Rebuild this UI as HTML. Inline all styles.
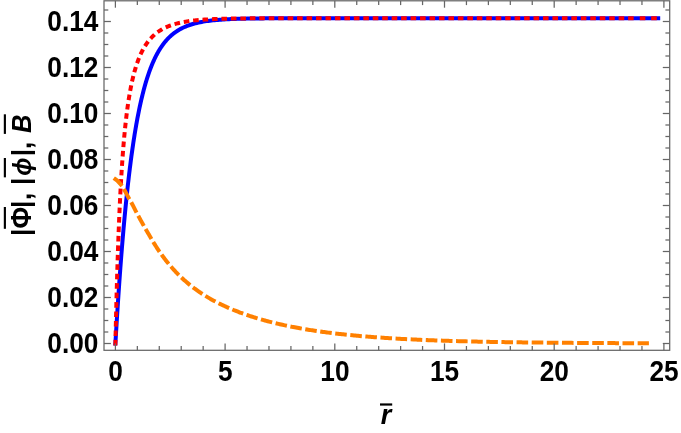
<!DOCTYPE html>
<html><head><meta charset="utf-8"><title>plot</title>
<style>
html,body{margin:0;padding:0;background:#fff;}
body{width:681px;height:433px;overflow:hidden;}
svg{display:block;will-change:transform;}
text{font-family:"Liberation Sans",Arial,Helvetica,sans-serif;font-weight:bold;font-size:28.6px;fill:#000;}
.it{font-style:italic;}
</style></head><body>
<svg width="681" height="433" viewBox="0 0 681 433">
<rect x="0" y="0" width="681" height="433" fill="#fff"/>
<g fill="none" stroke-linejoin="round">
<path d="M115.40,343.50 L115.65,339.24 L115.90,335.03 L116.15,330.87 L116.40,326.76 L116.65,322.69 L116.90,318.68 L117.15,314.72 L117.40,310.80 L117.65,306.93 L117.90,303.11 L118.15,299.34 L118.40,295.61 L118.65,291.94 L118.90,288.30 L119.15,284.72 L119.40,281.18 L119.65,277.68 L119.90,274.23 L120.15,270.83 L120.40,267.46 L120.65,264.14 L120.90,260.87 L121.15,257.64 L121.40,254.45 L121.65,251.30 L121.90,248.19 L122.15,245.12 L122.40,242.10 L122.65,239.11 L122.90,236.16 L123.15,233.25 L123.40,230.39 L123.65,227.55 L123.90,224.76 L124.15,222.00 L124.40,219.28 L124.65,216.60 L124.90,213.95 L125.15,211.34 L125.40,208.76 L125.65,206.22 L125.90,203.71 L126.15,201.24 L126.40,198.80 L126.65,196.39 L126.90,194.01 L127.15,191.67 L127.40,189.35 L127.65,187.07 L127.90,184.82 L128.15,182.60 L128.40,180.41 L128.65,178.25 L128.90,176.12 L129.15,174.01 L129.40,171.94 L129.65,169.89 L129.90,167.87 L130.15,165.88 L130.40,163.92 L130.65,161.98 L130.90,160.07 L131.15,158.18 L131.40,156.32 L131.65,154.48 L131.90,152.67 L132.15,150.89 L132.40,149.13 L132.65,147.39 L132.90,145.67 L133.15,143.98 L133.40,142.31 L133.65,140.67 L133.90,139.04 L134.15,137.44 L134.40,135.86 L134.65,134.30 L134.90,132.77 L135.15,131.25 L135.40,129.75 L135.65,128.28 L135.90,126.82 L136.15,125.39 L136.40,123.97 L136.65,122.57 L136.90,121.19 L137.15,119.83 L137.40,118.49 L137.65,117.17 L137.90,115.86 L138.15,114.57 L138.40,113.30 L138.65,112.05 L138.90,110.81 L139.15,109.59 L139.40,108.39 L139.65,107.20 L139.90,106.03 L140.15,104.87 L140.40,103.73 L140.65,102.61 L140.90,101.50 L141.15,100.40 L141.40,99.32 L141.65,98.26 L141.90,97.21 L142.15,96.17 L142.40,95.15 L142.65,94.14 L142.90,93.14 L143.15,92.16 L143.40,91.19 L143.65,90.23 L143.90,89.29 L144.15,88.36 L144.40,87.44 L144.65,86.54 L144.90,85.64 L145.15,84.76 L145.40,83.89 L145.65,83.03 L145.90,82.19 L146.15,81.35 L146.40,80.53 L146.65,79.71 L146.90,78.91 L147.15,78.12 L147.40,77.34 L147.65,76.57 L147.90,75.81 L148.15,75.06 L148.40,74.32 L148.65,73.59 L148.90,72.87 L149.15,72.16 L149.40,71.45 L149.65,70.76 L149.90,70.08 L150.15,69.41 L150.40,68.74 L150.65,68.08 L150.90,67.44 L151.15,66.80 L151.40,66.17 L151.65,65.55 L151.90,64.93 L152.15,64.33 L152.40,63.73 L152.65,63.14 L152.90,62.56 L153.15,61.99 L153.40,61.42 L153.65,60.86 L153.90,60.31 L154.15,59.77 L154.40,59.23 L154.65,58.70 L154.90,58.18 L155.15,57.66 L155.40,57.15 L155.65,56.65 L155.90,56.15 L156.15,55.66 L156.40,55.18 L156.65,54.71 L156.90,54.24 L157.15,53.77 L157.40,53.31 L157.65,52.86 L157.90,52.42 L158.15,51.98 L158.40,51.54 L158.65,51.11 L158.90,50.69 L159.15,50.27 L159.40,49.86 L159.65,49.46 L159.90,49.06 L160.15,48.66 L160.40,48.27 L160.65,47.88 L160.90,47.50 L161.15,47.13 L161.40,46.76 L161.65,46.39 L161.90,46.03 L162.15,45.68 L162.40,45.32 L162.65,44.98 L162.90,44.64 L163.15,44.30 L163.40,43.96 L163.65,43.64 L163.90,43.31 L164.15,42.99 L164.40,42.67 L164.65,42.36 L164.90,42.05 L165.15,41.75 L165.40,41.45 L165.65,41.15 L165.90,40.86 L166.15,40.57 L166.40,40.29 L166.65,40.01 L166.90,39.73 L167.15,39.46 L167.40,39.19 L167.65,38.92 L167.90,38.66 L168.15,38.40 L168.40,38.14 L168.65,37.89 L168.90,37.64 L169.15,37.39 L169.40,37.15 L169.65,36.91 L169.90,36.67 L170.15,36.44 L170.40,36.20 L170.65,35.98 L170.90,35.75 L171.15,35.53 L171.40,35.31 L171.65,35.09 L171.90,34.88 L172.15,34.67 L172.40,34.46 L172.65,34.25 L172.90,34.05 L173.15,33.85 L173.40,33.65 L173.65,33.46 L173.90,33.27 L174.15,33.08 L174.40,32.89 L174.65,32.70 L174.90,32.52 L175.15,32.34 L175.40,32.16 L175.90,31.81 L177.51,30.74 L179.13,29.76 L180.74,28.86 L182.35,28.03 L183.97,27.26 L185.58,26.55 L187.19,25.90 L188.80,25.31 L190.42,24.75 L192.03,24.25 L193.64,23.78 L195.26,23.35 L196.87,22.95 L198.48,22.59 L200.10,22.25 L201.71,21.94 L203.32,21.65 L204.93,21.38 L206.55,21.14 L208.16,20.92 L209.77,20.71 L211.39,20.52 L213.00,20.34 L214.61,20.18 L216.23,20.03 L217.84,19.89 L219.45,19.76 L221.07,19.64 L222.68,19.53 L224.29,19.43 L225.90,19.34 L227.52,19.25 L229.13,19.17 L230.74,19.10 L232.36,19.03 L233.97,18.97 L235.58,18.91 L237.20,18.86 L238.81,18.81 L240.42,18.76 L242.03,18.72 L243.65,18.68 L245.26,18.64 L246.87,18.61 L248.49,18.58 L250.10,18.55 L251.71,18.52 L253.33,18.50 L254.94,18.48 L256.55,18.46 L258.17,18.44 L259.78,18.42 L261.39,18.40 L263.00,18.39 L264.62,18.37 L266.23,18.36 L267.84,18.35 L269.46,18.34 L271.07,18.33 L272.68,18.32 L274.30,18.31 L275.91,18.30 L277.52,18.29 L279.13,18.29 L280.75,18.28 L282.36,18.27 L283.97,18.27 L285.59,18.26 L287.20,18.26 L288.81,18.25 L290.43,18.25 L292.04,18.25 L293.65,18.24 L295.27,18.24 L296.88,18.24 L298.49,18.23 L300.10,18.23 L301.72,18.23 L303.33,18.23 L304.94,18.23 L306.56,18.22 L308.17,18.22 L309.78,18.22 L311.40,18.22 L313.01,18.22 L314.62,18.22 L316.23,18.21 L317.85,18.21 L319.46,18.21 L321.07,18.21 L322.69,18.21 L324.30,18.21 L325.91,18.21 L327.53,18.21 L329.14,18.21 L330.75,18.21 L332.37,18.21 L333.98,18.21 L335.59,18.21 L337.20,18.21 L338.82,18.20 L340.43,18.20 L342.04,18.20 L343.66,18.20 L345.27,18.20 L346.88,18.20 L348.50,18.20 L350.11,18.20 L351.72,18.20 L353.33,18.20 L354.95,18.20 L356.56,18.20 L358.17,18.20 L359.79,18.20 L361.40,18.20 L363.01,18.20 L364.63,18.20 L366.24,18.20 L367.85,18.20 L369.47,18.20 L371.08,18.20 L372.69,18.20 L374.30,18.20 L375.92,18.20 L377.53,18.20 L379.14,18.20 L380.76,18.20 L382.37,18.20 L383.98,18.20 L385.60,18.20 L387.21,18.20 L388.82,18.20 L390.43,18.20 L392.05,18.20 L393.66,18.20 L395.27,18.20 L396.89,18.20 L398.50,18.20 L400.11,18.20 L401.73,18.20 L403.34,18.20 L404.95,18.20 L406.57,18.20 L408.18,18.20 L409.79,18.20 L411.40,18.20 L413.02,18.20 L414.63,18.20 L416.24,18.20 L417.86,18.20 L419.47,18.20 L421.08,18.20 L422.70,18.20 L424.31,18.20 L425.92,18.20 L427.53,18.20 L429.15,18.20 L430.76,18.20 L432.37,18.20 L433.99,18.20 L435.60,18.20 L437.21,18.20 L438.83,18.20 L440.44,18.20 L442.05,18.20 L443.67,18.20 L445.28,18.20 L446.89,18.20 L448.50,18.20 L450.12,18.20 L451.73,18.20 L453.34,18.20 L454.96,18.20 L456.57,18.20 L458.18,18.20 L459.80,18.20 L461.41,18.20 L463.02,18.20 L464.63,18.20 L466.25,18.20 L467.86,18.20 L469.47,18.20 L471.09,18.20 L472.70,18.20 L474.31,18.20 L475.93,18.20 L477.54,18.20 L479.15,18.20 L480.77,18.20 L482.38,18.20 L483.99,18.20 L485.60,18.20 L487.22,18.20 L488.83,18.20 L490.44,18.20 L492.06,18.20 L493.67,18.20 L495.28,18.20 L496.90,18.20 L498.51,18.20 L500.12,18.20 L501.73,18.20 L503.35,18.20 L504.96,18.20 L506.57,18.20 L508.19,18.20 L509.80,18.20 L511.41,18.20 L513.03,18.20 L514.64,18.20 L516.25,18.20 L517.87,18.20 L519.48,18.20 L521.09,18.20 L522.70,18.20 L524.32,18.20 L525.93,18.20 L527.54,18.20 L529.16,18.20 L530.77,18.20 L532.38,18.20 L534.00,18.20 L535.61,18.20 L537.22,18.20 L538.83,18.20 L540.45,18.20 L542.06,18.20 L543.67,18.20 L545.29,18.20 L546.90,18.20 L548.51,18.20 L550.13,18.20 L551.74,18.20 L553.35,18.20 L554.97,18.20 L556.58,18.20 L558.19,18.20 L559.80,18.20 L561.42,18.20 L563.03,18.20 L564.64,18.20 L566.26,18.20 L567.87,18.20 L569.48,18.20 L571.10,18.20 L572.71,18.20 L574.32,18.20 L575.93,18.20 L577.55,18.20 L579.16,18.20 L580.77,18.20 L582.39,18.20 L584.00,18.20 L585.61,18.20 L587.23,18.20 L588.84,18.20 L590.45,18.20 L592.07,18.20 L593.68,18.20 L595.29,18.20 L596.90,18.20 L598.52,18.20 L600.13,18.20 L601.74,18.20 L603.36,18.20 L604.97,18.20 L606.58,18.20 L608.20,18.20 L609.81,18.20 L611.42,18.20 L613.03,18.20 L614.65,18.20 L616.26,18.20 L617.87,18.20 L619.49,18.20 L621.10,18.20 L622.71,18.20 L624.33,18.20 L625.94,18.20 L627.55,18.20 L629.17,18.20 L630.78,18.20 L632.39,18.20 L634.00,18.20 L635.62,18.20 L637.23,18.20 L638.84,18.20 L640.46,18.20 L642.07,18.20 L643.68,18.20 L645.30,18.20 L646.91,18.20 L648.52,18.20 L650.13,18.20 L651.75,18.20 L653.36,18.20 L654.97,18.20 L656.59,18.20 L658.20,18.20" stroke="#0000ff" stroke-width="4" stroke-linecap="square"/>
<path d="M115.40,343.50 L115.65,332.55 L115.90,322.03 L116.15,311.94 L116.40,302.27 L116.65,293.00 L116.90,284.12 L117.15,275.62 L117.40,267.48 L117.65,259.68 L117.90,252.22 L118.15,245.07 L118.40,238.22 L118.65,231.66 L118.90,225.38 L119.15,219.35 L119.40,213.58 L119.65,208.03 L119.90,202.72 L120.15,197.61 L120.40,192.71 L120.65,188.00 L120.90,183.48 L121.15,179.13 L121.40,174.94 L121.65,170.92 L121.90,167.04 L122.15,163.30 L122.40,159.70 L122.65,156.23 L122.90,152.89 L123.15,149.66 L123.40,146.54 L123.65,143.53 L123.90,140.62 L124.15,137.81 L124.40,135.09 L124.65,132.47 L124.90,129.92 L125.15,127.46 L125.40,125.07 L125.65,122.76 L125.90,120.53 L126.15,118.35 L126.40,116.25 L126.65,114.21 L126.90,112.22 L127.15,110.30 L127.40,108.43 L127.65,106.61 L127.90,104.85 L128.15,103.13 L128.40,101.47 L128.65,99.84 L128.90,98.27 L129.15,96.73 L129.40,95.23 L129.65,93.78 L129.90,92.36 L130.15,90.98 L130.40,89.63 L130.65,88.32 L130.90,87.04 L131.15,85.79 L131.40,84.57 L131.65,83.38 L131.90,82.22 L132.15,81.09 L132.40,79.98 L132.65,78.90 L132.90,77.85 L133.15,76.82 L133.40,75.81 L133.65,74.82 L133.90,73.86 L134.15,72.92 L134.40,72.00 L134.65,71.10 L134.90,70.22 L135.15,69.36 L135.40,68.52 L135.65,67.69 L135.90,66.88 L136.15,66.09 L136.40,65.32 L136.65,64.56 L136.90,63.82 L137.15,63.09 L137.40,62.38 L137.65,61.68 L137.90,60.99 L138.15,60.32 L138.40,59.66 L138.65,59.02 L138.90,58.38 L139.15,57.76 L139.40,57.16 L139.65,56.56 L139.90,55.97 L140.15,55.40 L140.40,54.83 L140.65,54.28 L140.90,53.74 L141.15,53.20 L141.40,52.68 L141.65,52.16 L141.90,51.66 L142.15,51.16 L142.40,50.68 L142.65,50.20 L142.90,49.73 L143.15,49.27 L143.40,48.81 L143.65,48.37 L143.90,47.93 L144.15,47.50 L144.40,47.08 L144.65,46.66 L144.90,46.25 L145.15,45.85 L145.40,45.46 L145.65,45.07 L145.90,44.69 L146.15,44.31 L146.40,43.94 L146.65,43.58 L146.90,43.22 L147.15,42.87 L147.40,42.52 L147.65,42.18 L147.90,41.85 L148.15,41.52 L148.40,41.20 L148.65,40.88 L148.90,40.57 L149.15,40.26 L149.40,39.95 L149.65,39.65 L149.90,39.36 L150.15,39.07 L150.40,38.79 L150.65,38.51 L150.90,38.23 L151.15,37.96 L151.40,37.69 L151.65,37.43 L151.90,37.17 L152.15,36.91 L152.40,36.66 L152.65,36.41 L152.90,36.17 L153.15,35.93 L153.40,35.69 L153.65,35.46 L153.90,35.23 L154.15,35.00 L154.40,34.78 L154.65,34.56 L154.90,34.34 L155.15,34.13 L155.40,33.92 L155.65,33.71 L155.90,33.51 L156.15,33.30 L156.40,33.11 L156.65,32.91 L156.90,32.72 L157.15,32.53 L157.40,32.34 L157.65,32.16 L157.90,31.98 L158.15,31.80 L158.40,31.62 L158.65,31.45 L158.90,31.28 L159.15,31.11 L159.40,30.94 L159.65,30.78 L159.90,30.61 L160.15,30.45 L160.40,30.30 L160.65,30.14 L160.90,29.99 L161.15,29.84 L161.40,29.69 L161.65,29.54 L161.90,29.40 L162.15,29.25 L162.40,29.11 L162.65,28.97 L162.90,28.84 L163.15,28.70 L163.40,28.57 L163.65,28.44 L163.90,28.31 L164.15,28.18 L164.40,28.05 L164.65,27.93 L164.90,27.81 L165.15,27.69 L165.40,27.57 L165.65,27.45 L165.90,27.33 L166.15,27.22 L166.40,27.11 L166.65,26.99 L166.90,26.88 L167.15,26.78 L167.40,26.67 L167.65,26.56 L167.90,26.46 L168.15,26.35 L168.40,26.25 L168.65,26.15 L168.90,26.05 L169.15,25.96 L169.40,25.86 L169.65,25.77 L169.90,25.67 L170.15,25.58 L170.40,25.49 L170.65,25.40 L170.90,25.31 L171.15,25.22 L171.40,25.13 L171.65,25.05 L171.90,24.96 L172.15,24.88 L172.40,24.80 L172.65,24.72 L172.90,24.64 L173.15,24.56 L173.40,24.48 L173.65,24.40 L173.90,24.33 L174.15,24.25 L174.40,24.18 L174.65,24.11 L174.90,24.03 L175.15,23.96 L175.40,23.89 L175.90,23.75 L177.44,23.35 L178.98,22.98 L180.52,22.63 L182.06,22.32 L183.59,22.02 L185.13,21.75 L186.67,21.50 L188.21,21.26 L189.75,21.04 L191.29,20.84 L192.83,20.66 L194.37,20.48 L195.90,20.32 L197.44,20.17 L198.98,20.04 L200.52,19.91 L202.06,19.79 L203.60,19.68 L205.14,19.57 L206.68,19.48 L208.21,19.39 L209.75,19.31 L211.29,19.23 L212.83,19.16 L214.37,19.09 L215.91,19.03 L217.45,18.98 L218.99,18.92 L220.53,18.87 L222.06,18.83 L223.60,18.78 L225.14,18.74 L226.68,18.71 L228.22,18.67 L229.76,18.64 L231.30,18.61 L232.84,18.58 L234.37,18.56 L235.91,18.53 L237.45,18.51 L238.99,18.49 L240.53,18.47 L242.07,18.45 L243.61,18.43 L245.15,18.42 L246.68,18.40 L248.22,18.39 L249.76,18.38 L251.30,18.36 L252.84,18.35 L254.38,18.34 L255.92,18.33 L257.46,18.32 L258.99,18.32 L260.53,18.31 L262.07,18.30 L263.61,18.29 L265.15,18.29 L266.69,18.28 L268.23,18.28 L269.77,18.27 L271.31,18.27 L272.84,18.26 L274.38,18.26 L275.92,18.25 L277.46,18.25 L279.00,18.25 L280.54,18.24 L282.08,18.24 L283.62,18.24 L285.15,18.24 L286.69,18.23 L288.23,18.23 L289.77,18.23 L291.31,18.23 L292.85,18.22 L294.39,18.22 L295.93,18.22 L297.46,18.22 L299.00,18.22 L300.54,18.22 L302.08,18.22 L303.62,18.22 L305.16,18.21 L306.70,18.21 L308.24,18.21 L309.78,18.21 L311.31,18.21 L312.85,18.21 L314.39,18.21 L315.93,18.21 L317.47,18.21 L319.01,18.21 L320.55,18.21 L322.09,18.21 L323.62,18.21 L325.16,18.21 L326.70,18.21 L328.24,18.21 L329.78,18.20 L331.32,18.20 L332.86,18.20 L334.40,18.20 L335.93,18.20 L337.47,18.20 L339.01,18.20 L340.55,18.20 L342.09,18.20 L343.63,18.20 L345.17,18.20 L346.71,18.20 L348.25,18.20 L349.78,18.20 L351.32,18.20 L352.86,18.20 L354.40,18.20 L355.94,18.20 L357.48,18.20 L359.02,18.20 L360.56,18.20 L362.09,18.20 L363.63,18.20 L365.17,18.20 L366.71,18.20 L368.25,18.20 L369.79,18.20 L371.33,18.20 L372.87,18.20 L374.40,18.20 L375.94,18.20 L377.48,18.20 L379.02,18.20 L380.56,18.20 L382.10,18.20 L383.64,18.20 L385.18,18.20 L386.72,18.20 L388.25,18.20 L389.79,18.20 L391.33,18.20 L392.87,18.20 L394.41,18.20 L395.95,18.20 L397.49,18.20 L399.03,18.20 L400.56,18.20 L402.10,18.20 L403.64,18.20 L405.18,18.20 L406.72,18.20 L408.26,18.20 L409.80,18.20 L411.34,18.20 L412.87,18.20 L414.41,18.20 L415.95,18.20 L417.49,18.20 L419.03,18.20 L420.57,18.20 L422.11,18.20 L423.65,18.20 L425.18,18.20 L426.72,18.20 L428.26,18.20 L429.80,18.20 L431.34,18.20 L432.88,18.20 L434.42,18.20 L435.96,18.20 L437.50,18.20 L439.03,18.20 L440.57,18.20 L442.11,18.20 L443.65,18.20 L445.19,18.20 L446.73,18.20 L448.27,18.20 L449.81,18.20 L451.34,18.20 L452.88,18.20 L454.42,18.20 L455.96,18.20 L457.50,18.20 L459.04,18.20 L460.58,18.20 L462.12,18.20 L463.65,18.20 L465.19,18.20 L466.73,18.20 L468.27,18.20 L469.81,18.20 L471.35,18.20 L472.89,18.20 L474.43,18.20 L475.97,18.20 L477.50,18.20 L479.04,18.20 L480.58,18.20 L482.12,18.20 L483.66,18.20 L485.20,18.20 L486.74,18.20 L488.28,18.20 L489.81,18.20 L491.35,18.20 L492.89,18.20 L494.43,18.20 L495.97,18.20 L497.51,18.20 L499.05,18.20 L500.59,18.20 L502.12,18.20 L503.66,18.20 L505.20,18.20 L506.74,18.20 L508.28,18.20 L509.82,18.20 L511.36,18.20 L512.90,18.20 L514.44,18.20 L515.97,18.20 L517.51,18.20 L519.05,18.20 L520.59,18.20 L522.13,18.20 L523.67,18.20 L525.21,18.20 L526.75,18.20 L528.28,18.20 L529.82,18.20 L531.36,18.20 L532.90,18.20 L534.44,18.20 L535.98,18.20 L537.52,18.20 L539.06,18.20 L540.59,18.20 L542.13,18.20 L543.67,18.20 L545.21,18.20 L546.75,18.20 L548.29,18.20 L549.83,18.20 L551.37,18.20 L552.91,18.20 L554.44,18.20 L555.98,18.20 L557.52,18.20 L559.06,18.20 L560.60,18.20 L562.14,18.20 L563.68,18.20 L565.22,18.20 L566.75,18.20 L568.29,18.20 L569.83,18.20 L571.37,18.20 L572.91,18.20 L574.45,18.20 L575.99,18.20 L577.53,18.20 L579.06,18.20 L580.60,18.20 L582.14,18.20 L583.68,18.20 L585.22,18.20 L586.76,18.20 L588.30,18.20 L589.84,18.20 L591.37,18.20 L592.91,18.20 L594.45,18.20 L595.99,18.20 L597.53,18.20 L599.07,18.20 L600.61,18.20 L602.15,18.20 L603.69,18.20 L605.22,18.20 L606.76,18.20 L608.30,18.20 L609.84,18.20 L611.38,18.20 L612.92,18.20 L614.46,18.20 L616.00,18.20 L617.53,18.20 L619.07,18.20 L620.61,18.20 L622.15,18.20 L623.69,18.20 L625.23,18.20 L626.77,18.20 L628.31,18.20 L629.84,18.20 L631.38,18.20 L632.92,18.20 L634.46,18.20 L636.00,18.20" stroke="#ff0000" stroke-width="4" stroke-dasharray="1.6 7.857" stroke-linecap="square"/>
<path d="M639.75,18.20 L645.35,18.20 M651.2,18.20 L656.8,18.20" stroke="#ff0000" stroke-width="4" stroke-linecap="butt"/>
<path d="M115.40,179.20 L115.90,179.55 L116.40,179.93 L116.90,180.35 L117.40,180.80 L117.90,181.29 L118.40,181.80 L118.90,182.33 L119.40,182.89 L119.90,183.47 L120.40,184.07 L120.90,184.68 L121.40,185.30 L121.90,185.97 L122.40,186.70 L122.90,187.49 L123.40,188.30 L123.90,189.13 L124.40,189.98 L124.90,190.86 L125.40,191.77 L125.90,192.71 L126.40,193.66 L126.90,194.62 L127.40,195.58 L127.90,196.54 L128.40,197.47 L128.90,198.39 L129.40,199.27 L129.90,200.12 L130.40,200.94 L130.90,201.77 L131.40,202.62 L131.90,203.53 L132.40,204.46 L132.90,205.42 L133.40,206.40 L133.90,207.40 L134.40,208.39 L134.90,209.39 L135.40,210.38 L135.90,211.36 L136.40,212.31 L136.90,213.25 L137.40,214.18 L137.90,215.11 L138.40,216.03 L138.90,216.95 L139.40,217.87 L139.90,218.79 L140.40,219.70 L140.90,220.60 L141.40,221.50 L141.90,222.40 L142.40,223.30 L142.90,224.19 L143.40,225.08 L143.90,225.96 L144.40,226.84 L144.90,227.72 L145.40,228.59 L145.90,229.46 L146.40,230.32 L146.90,231.18 L147.40,232.04 L147.90,232.89 L148.40,233.75 L148.90,234.61 L149.40,235.47 L149.90,236.32 L150.40,237.17 L150.90,238.02 L151.40,238.87 L151.90,239.71 L152.40,240.55 L152.90,241.39 L153.40,242.22 L153.90,243.04 L154.40,243.86 L154.90,244.67 L155.40,245.47 L155.90,246.26 L156.40,247.04 L156.90,247.82 L157.40,248.59 L157.90,249.34 L158.40,250.08 L158.90,250.82 L159.40,251.54 L159.90,252.26 L160.40,252.97 L160.90,253.68 L161.40,254.38 L161.90,255.08 L162.40,255.77 L162.90,256.45 L163.40,257.13 L163.90,257.80 L164.40,258.46 L164.90,259.12 L165.40,259.77 L165.90,260.42 L166.40,261.06 L166.90,261.69 L167.40,262.32 L167.90,262.94 L168.40,263.55 L168.90,264.16 L169.40,264.76 L169.90,265.35 L170.40,265.94 L170.90,266.52 L171.40,267.09 L171.90,267.66 L172.40,268.23 L172.90,268.79 L173.40,269.34 L173.90,269.89 L174.40,270.43 L174.90,270.97 L175.40,271.51 L175.90,272.03 L177.25,273.43 L178.60,274.79 L179.95,276.12 L181.30,277.41 L182.65,278.67 L184.00,279.90 L185.35,281.09 L186.70,282.26 L188.05,283.40 L189.40,284.51 L190.75,285.59 L192.09,286.65 L193.44,287.68 L194.79,288.69 L196.14,289.67 L197.49,290.63 L198.84,291.57 L200.19,292.49 L201.54,293.39 L202.89,294.26 L204.24,295.12 L205.59,295.96 L206.94,296.78 L208.29,297.59 L209.64,298.38 L210.99,299.15 L212.34,299.90 L213.69,300.64 L215.04,301.36 L216.39,302.07 L217.74,302.77 L219.09,303.45 L220.44,304.12 L221.79,304.78 L223.13,305.42 L224.48,306.05 L225.83,306.67 L227.18,307.27 L228.53,307.87 L229.88,308.45 L231.23,309.03 L232.58,309.59 L233.93,310.14 L235.28,310.69 L236.63,311.22 L237.98,311.74 L239.33,312.26 L240.68,312.76 L242.03,313.26 L243.38,313.75 L244.73,314.23 L246.08,314.70 L247.43,315.16 L248.78,315.62 L250.13,316.06 L251.48,316.50 L252.83,316.94 L254.18,317.36 L255.52,317.78 L256.87,318.19 L258.22,318.59 L259.57,318.99 L260.92,319.38 L262.27,319.76 L263.62,320.14 L264.97,320.51 L266.32,320.88 L267.67,321.24 L269.02,321.59 L270.37,321.94 L271.72,322.28 L273.07,322.62 L274.42,322.95 L275.77,323.27 L277.12,323.59 L278.47,323.91 L279.82,324.22 L281.17,324.52 L282.52,324.82 L283.87,325.12 L285.22,325.41 L286.56,325.70 L287.91,325.98 L289.26,326.25 L290.61,326.53 L291.96,326.79 L293.31,327.06 L294.66,327.32 L296.01,327.57 L297.36,327.82 L298.71,328.07 L300.06,328.31 L301.41,328.55 L302.76,328.79 L304.11,329.02 L305.46,329.25 L306.81,329.47 L308.16,329.70 L309.51,329.91 L310.86,330.13 L312.21,330.34 L313.56,330.55 L314.91,330.75 L316.26,330.95 L317.60,331.15 L318.95,331.34 L320.30,331.53 L321.65,331.72 L323.00,331.91 L324.35,332.09 L325.70,332.27 L327.05,332.45 L328.40,332.62 L329.75,332.79 L331.10,332.96 L332.45,333.13 L333.80,333.29 L335.15,333.45 L336.50,333.61 L337.85,333.76 L339.20,333.92 L340.55,334.07 L341.90,334.22 L343.25,334.36 L344.60,334.51 L345.95,334.65 L347.30,334.79 L348.64,334.92 L349.99,335.06 L351.34,335.19 L352.69,335.32 L354.04,335.45 L355.39,335.58 L356.74,335.70 L358.09,335.83 L359.44,335.95 L360.79,336.07 L362.14,336.18 L363.49,336.30 L364.84,336.41 L366.19,336.52 L367.54,336.63 L368.89,336.74 L370.24,336.85 L371.59,336.95 L372.94,337.05 L374.29,337.16 L375.64,337.26 L376.99,337.35 L378.34,337.45 L379.69,337.55 L381.03,337.64 L382.38,337.73 L383.73,337.82 L385.08,337.91 L386.43,338.00 L387.78,338.09 L389.13,338.17 L390.48,338.26 L391.83,338.34 L393.18,338.42 L394.53,338.50 L395.88,338.58 L397.23,338.66 L398.58,338.73 L399.93,338.81 L401.28,338.88 L402.63,338.95 L403.98,339.02 L405.33,339.09 L406.68,339.16 L408.03,339.23 L409.38,339.30 L410.73,339.37 L412.07,339.43 L413.42,339.49 L414.77,339.56 L416.12,339.62 L417.47,339.68 L418.82,339.74 L420.17,339.80 L421.52,339.86 L422.87,339.92 L424.22,339.97 L425.57,340.03 L426.92,340.08 L428.27,340.14 L429.62,340.19 L430.97,340.24 L432.32,340.29 L433.67,340.34 L435.02,340.39 L436.37,340.44 L437.72,340.49 L439.07,340.54 L440.42,340.58 L441.77,340.63 L443.11,340.67 L444.46,340.72 L445.81,340.76 L447.16,340.81 L448.51,340.85 L449.86,340.89 L451.21,340.93 L452.56,340.97 L453.91,341.01 L455.26,341.05 L456.61,341.09 L457.96,341.13 L459.31,341.16 L460.66,341.20 L462.01,341.24 L463.36,341.27 L464.71,341.31 L466.06,341.34 L467.41,341.38 L468.76,341.41 L470.11,341.44 L471.46,341.47 L472.81,341.51 L474.16,341.54 L475.50,341.57 L476.85,341.60 L478.20,341.63 L479.55,341.66 L480.90,341.69 L482.25,341.72 L483.60,341.74 L484.95,341.77 L486.30,341.80 L487.65,341.83 L489.00,341.85 L490.35,341.88 L491.70,341.90 L493.05,341.93 L494.40,341.95 L495.75,341.98 L497.10,342.00 L498.45,342.03 L499.80,342.05 L501.15,342.07 L502.50,342.09 L503.85,342.12 L505.20,342.14 L506.54,342.16 L507.89,342.18 L509.24,342.20 L510.59,342.22 L511.94,342.24 L513.29,342.26 L514.64,342.28 L515.99,342.30 L517.34,342.32 L518.69,342.34 L520.04,342.36 L521.39,342.37 L522.74,342.39 L524.09,342.41 L525.44,342.43 L526.79,342.44 L528.14,342.46 L529.49,342.48 L530.84,342.49 L532.19,342.51 L533.54,342.52 L534.89,342.54 L536.24,342.55 L537.58,342.57 L538.93,342.58 L540.28,342.60 L541.63,342.61 L542.98,342.63 L544.33,342.64 L545.68,342.65 L547.03,342.67 L548.38,342.68 L549.73,342.69 L551.08,342.71 L552.43,342.72 L553.78,342.73 L555.13,342.74 L556.48,342.75 L557.83,342.77 L559.18,342.78 L560.53,342.79 L561.88,342.80 L563.23,342.81 L564.58,342.82 L565.93,342.83 L567.28,342.84 L568.62,342.85 L569.97,342.86 L571.32,342.87 L572.67,342.88 L574.02,342.89 L575.37,342.90 L576.72,342.91 L578.07,342.92 L579.42,342.93 L580.77,342.94 L582.12,342.95 L583.47,342.96 L584.82,342.97 L586.17,342.97 L587.52,342.98 L588.87,342.99 L590.22,343.00 L591.57,343.01 L592.92,343.01 L594.27,343.02 L595.62,343.03 L596.97,343.04 L598.32,343.04 L599.67,343.05 L601.01,343.06 L602.36,343.06 L603.71,343.07 L605.06,343.08 L606.41,343.09 L607.76,343.09 L609.11,343.10 L610.46,343.10 L611.81,343.11 L613.16,343.12 L614.51,343.12 L615.86,343.13 L617.21,343.13 L618.56,343.14 L619.91,343.15 L621.26,343.15 L622.61,343.16 L623.96,343.16 L625.31,343.17 L626.66,343.17 L628.01,343.18 L629.36,343.18 L630.71,343.19 L632.05,343.19 L633.40,343.20 L634.75,343.20 L636.10,343.21 L637.45,343.21 L638.80,343.22 L640.15,343.22 L641.50,343.23 L642.85,343.23 L644.20,343.23 L645.55,343.24 L646.90,343.24" stroke="#ff8000" stroke-width="4" stroke-dasharray="7.6 7.535" stroke-linecap="square"/>
</g>
<g stroke="#666666" stroke-width="1.25" fill="none">
<rect x="104.0" y="0.8" width="565.7" height="349.5"/>
<line x1="115.40" y1="350.30" x2="115.40" y2="343.40"/>
<line x1="115.40" y1="0.80" x2="115.40" y2="7.70"/>
<line x1="137.34" y1="350.30" x2="137.34" y2="346.00"/>
<line x1="137.34" y1="0.80" x2="137.34" y2="5.10"/>
<line x1="159.28" y1="350.30" x2="159.28" y2="346.00"/>
<line x1="159.28" y1="0.80" x2="159.28" y2="5.10"/>
<line x1="181.22" y1="350.30" x2="181.22" y2="346.00"/>
<line x1="181.22" y1="0.80" x2="181.22" y2="5.10"/>
<line x1="203.16" y1="350.30" x2="203.16" y2="346.00"/>
<line x1="203.16" y1="0.80" x2="203.16" y2="5.10"/>
<line x1="225.10" y1="350.30" x2="225.10" y2="343.40"/>
<line x1="225.10" y1="0.80" x2="225.10" y2="7.70"/>
<line x1="247.04" y1="350.30" x2="247.04" y2="346.00"/>
<line x1="247.04" y1="0.80" x2="247.04" y2="5.10"/>
<line x1="268.98" y1="350.30" x2="268.98" y2="346.00"/>
<line x1="268.98" y1="0.80" x2="268.98" y2="5.10"/>
<line x1="290.92" y1="350.30" x2="290.92" y2="346.00"/>
<line x1="290.92" y1="0.80" x2="290.92" y2="5.10"/>
<line x1="312.86" y1="350.30" x2="312.86" y2="346.00"/>
<line x1="312.86" y1="0.80" x2="312.86" y2="5.10"/>
<line x1="334.80" y1="350.30" x2="334.80" y2="343.40"/>
<line x1="334.80" y1="0.80" x2="334.80" y2="7.70"/>
<line x1="356.74" y1="350.30" x2="356.74" y2="346.00"/>
<line x1="356.74" y1="0.80" x2="356.74" y2="5.10"/>
<line x1="378.68" y1="350.30" x2="378.68" y2="346.00"/>
<line x1="378.68" y1="0.80" x2="378.68" y2="5.10"/>
<line x1="400.62" y1="350.30" x2="400.62" y2="346.00"/>
<line x1="400.62" y1="0.80" x2="400.62" y2="5.10"/>
<line x1="422.56" y1="350.30" x2="422.56" y2="346.00"/>
<line x1="422.56" y1="0.80" x2="422.56" y2="5.10"/>
<line x1="444.50" y1="350.30" x2="444.50" y2="343.40"/>
<line x1="444.50" y1="0.80" x2="444.50" y2="7.70"/>
<line x1="466.44" y1="350.30" x2="466.44" y2="346.00"/>
<line x1="466.44" y1="0.80" x2="466.44" y2="5.10"/>
<line x1="488.38" y1="350.30" x2="488.38" y2="346.00"/>
<line x1="488.38" y1="0.80" x2="488.38" y2="5.10"/>
<line x1="510.32" y1="350.30" x2="510.32" y2="346.00"/>
<line x1="510.32" y1="0.80" x2="510.32" y2="5.10"/>
<line x1="532.26" y1="350.30" x2="532.26" y2="346.00"/>
<line x1="532.26" y1="0.80" x2="532.26" y2="5.10"/>
<line x1="554.20" y1="350.30" x2="554.20" y2="343.40"/>
<line x1="554.20" y1="0.80" x2="554.20" y2="7.70"/>
<line x1="576.14" y1="350.30" x2="576.14" y2="346.00"/>
<line x1="576.14" y1="0.80" x2="576.14" y2="5.10"/>
<line x1="598.08" y1="350.30" x2="598.08" y2="346.00"/>
<line x1="598.08" y1="0.80" x2="598.08" y2="5.10"/>
<line x1="620.02" y1="350.30" x2="620.02" y2="346.00"/>
<line x1="620.02" y1="0.80" x2="620.02" y2="5.10"/>
<line x1="641.96" y1="350.30" x2="641.96" y2="346.00"/>
<line x1="641.96" y1="0.80" x2="641.96" y2="5.10"/>
<line x1="663.90" y1="350.30" x2="663.90" y2="343.40"/>
<line x1="663.90" y1="0.80" x2="663.90" y2="7.70"/>
<line x1="104.00" y1="343.50" x2="110.90" y2="343.50"/>
<line x1="669.70" y1="343.50" x2="662.80" y2="343.50"/>
<line x1="104.00" y1="332.00" x2="108.30" y2="332.00"/>
<line x1="669.70" y1="332.00" x2="665.40" y2="332.00"/>
<line x1="104.00" y1="320.50" x2="108.30" y2="320.50"/>
<line x1="669.70" y1="320.50" x2="665.40" y2="320.50"/>
<line x1="104.00" y1="309.00" x2="108.30" y2="309.00"/>
<line x1="669.70" y1="309.00" x2="665.40" y2="309.00"/>
<line x1="104.00" y1="297.50" x2="110.90" y2="297.50"/>
<line x1="669.70" y1="297.50" x2="662.80" y2="297.50"/>
<line x1="104.00" y1="286.00" x2="108.30" y2="286.00"/>
<line x1="669.70" y1="286.00" x2="665.40" y2="286.00"/>
<line x1="104.00" y1="274.50" x2="108.30" y2="274.50"/>
<line x1="669.70" y1="274.50" x2="665.40" y2="274.50"/>
<line x1="104.00" y1="263.00" x2="108.30" y2="263.00"/>
<line x1="669.70" y1="263.00" x2="665.40" y2="263.00"/>
<line x1="104.00" y1="251.50" x2="110.90" y2="251.50"/>
<line x1="669.70" y1="251.50" x2="662.80" y2="251.50"/>
<line x1="104.00" y1="240.00" x2="108.30" y2="240.00"/>
<line x1="669.70" y1="240.00" x2="665.40" y2="240.00"/>
<line x1="104.00" y1="228.50" x2="108.30" y2="228.50"/>
<line x1="669.70" y1="228.50" x2="665.40" y2="228.50"/>
<line x1="104.00" y1="217.00" x2="108.30" y2="217.00"/>
<line x1="669.70" y1="217.00" x2="665.40" y2="217.00"/>
<line x1="104.00" y1="205.50" x2="110.90" y2="205.50"/>
<line x1="669.70" y1="205.50" x2="662.80" y2="205.50"/>
<line x1="104.00" y1="194.00" x2="108.30" y2="194.00"/>
<line x1="669.70" y1="194.00" x2="665.40" y2="194.00"/>
<line x1="104.00" y1="182.50" x2="108.30" y2="182.50"/>
<line x1="669.70" y1="182.50" x2="665.40" y2="182.50"/>
<line x1="104.00" y1="171.00" x2="108.30" y2="171.00"/>
<line x1="669.70" y1="171.00" x2="665.40" y2="171.00"/>
<line x1="104.00" y1="159.50" x2="110.90" y2="159.50"/>
<line x1="669.70" y1="159.50" x2="662.80" y2="159.50"/>
<line x1="104.00" y1="148.00" x2="108.30" y2="148.00"/>
<line x1="669.70" y1="148.00" x2="665.40" y2="148.00"/>
<line x1="104.00" y1="136.50" x2="108.30" y2="136.50"/>
<line x1="669.70" y1="136.50" x2="665.40" y2="136.50"/>
<line x1="104.00" y1="125.00" x2="108.30" y2="125.00"/>
<line x1="669.70" y1="125.00" x2="665.40" y2="125.00"/>
<line x1="104.00" y1="113.50" x2="110.90" y2="113.50"/>
<line x1="669.70" y1="113.50" x2="662.80" y2="113.50"/>
<line x1="104.00" y1="102.00" x2="108.30" y2="102.00"/>
<line x1="669.70" y1="102.00" x2="665.40" y2="102.00"/>
<line x1="104.00" y1="90.50" x2="108.30" y2="90.50"/>
<line x1="669.70" y1="90.50" x2="665.40" y2="90.50"/>
<line x1="104.00" y1="79.00" x2="108.30" y2="79.00"/>
<line x1="669.70" y1="79.00" x2="665.40" y2="79.00"/>
<line x1="104.00" y1="67.50" x2="110.90" y2="67.50"/>
<line x1="669.70" y1="67.50" x2="662.80" y2="67.50"/>
<line x1="104.00" y1="56.00" x2="108.30" y2="56.00"/>
<line x1="669.70" y1="56.00" x2="665.40" y2="56.00"/>
<line x1="104.00" y1="44.50" x2="108.30" y2="44.50"/>
<line x1="669.70" y1="44.50" x2="665.40" y2="44.50"/>
<line x1="104.00" y1="33.00" x2="108.30" y2="33.00"/>
<line x1="669.70" y1="33.00" x2="665.40" y2="33.00"/>
<line x1="104.00" y1="21.50" x2="110.90" y2="21.50"/>
<line x1="669.70" y1="21.50" x2="662.80" y2="21.50"/>
<line x1="104.00" y1="10.00" x2="108.30" y2="10.00"/>
<line x1="669.70" y1="10.00" x2="665.40" y2="10.00"/>
</g>
<g>
<text transform="translate(98.40,352.80) scale(0.918,1)" text-anchor="end">0.00</text>
<text transform="translate(98.40,306.80) scale(0.918,1)" text-anchor="end">0.02</text>
<text transform="translate(98.40,260.80) scale(0.918,1)" text-anchor="end">0.04</text>
<text transform="translate(98.40,214.80) scale(0.918,1)" text-anchor="end">0.06</text>
<text transform="translate(98.40,168.80) scale(0.918,1)" text-anchor="end">0.08</text>
<text transform="translate(98.40,122.80) scale(0.918,1)" text-anchor="end">0.10</text>
<text transform="translate(98.40,76.80) scale(0.918,1)" text-anchor="end">0.12</text>
<text transform="translate(98.40,30.80) scale(0.918,1)" text-anchor="end">0.14</text>
<text transform="translate(115.50,381.00) scale(0.918,1)" text-anchor="middle">0</text>
<text transform="translate(225.20,381.00) scale(0.918,1)" text-anchor="middle">5</text>
<text transform="translate(334.90,381.00) scale(0.918,1)" text-anchor="middle">10</text>
<text transform="translate(444.60,381.00) scale(0.918,1)" text-anchor="middle">15</text>
<text transform="translate(554.30,381.00) scale(0.918,1)" text-anchor="middle">20</text>
<text transform="translate(664.00,381.00) scale(0.918,1)" text-anchor="middle">25</text>
</g>
<g fill="#000">
<text transform="translate(30.35,236.10) rotate(-90) scale(0.9180,0.9230)">|</text>
<text transform="translate(30.70,228.60) rotate(-90) scale(0.9180,1.0000)">Φ</text>
<text transform="translate(30.35,208.05) rotate(-90) scale(0.9180,0.9230)">|</text>
<text transform="translate(30.70,199.90) rotate(-90) scale(0.9180,1.0000)">,</text>
<text transform="translate(30.35,185.10) rotate(-90) scale(0.9180,0.9230)">|</text>
<text transform="translate(30.70,175.80) rotate(-90) scale(0.8446,0.9200)" class="it">ϕ</text>
<text transform="translate(30.35,156.30) rotate(-90) scale(0.9180,0.9230)">|</text>
<text transform="translate(30.70,149.00) rotate(-90) scale(0.9180,1.0000)">,</text>
<text transform="translate(30.70,133.00) rotate(-90) scale(0.8951,0.9750)" class="it">B</text>
<rect x="3.8" y="207.0" width="2.15" height="21.80"/>
<rect x="3.8" y="158.0" width="2.15" height="19.35"/>
<rect x="3.8" y="114.3" width="2.15" height="19.60"/>
</g>
<text class="it" transform="translate(380.8,424) scale(0.95,0.935)">r</text>
<g fill="#000">
<rect x="380" y="403.4" width="12.2" height="2.2"/>
</g>
</svg>
</body></html>
